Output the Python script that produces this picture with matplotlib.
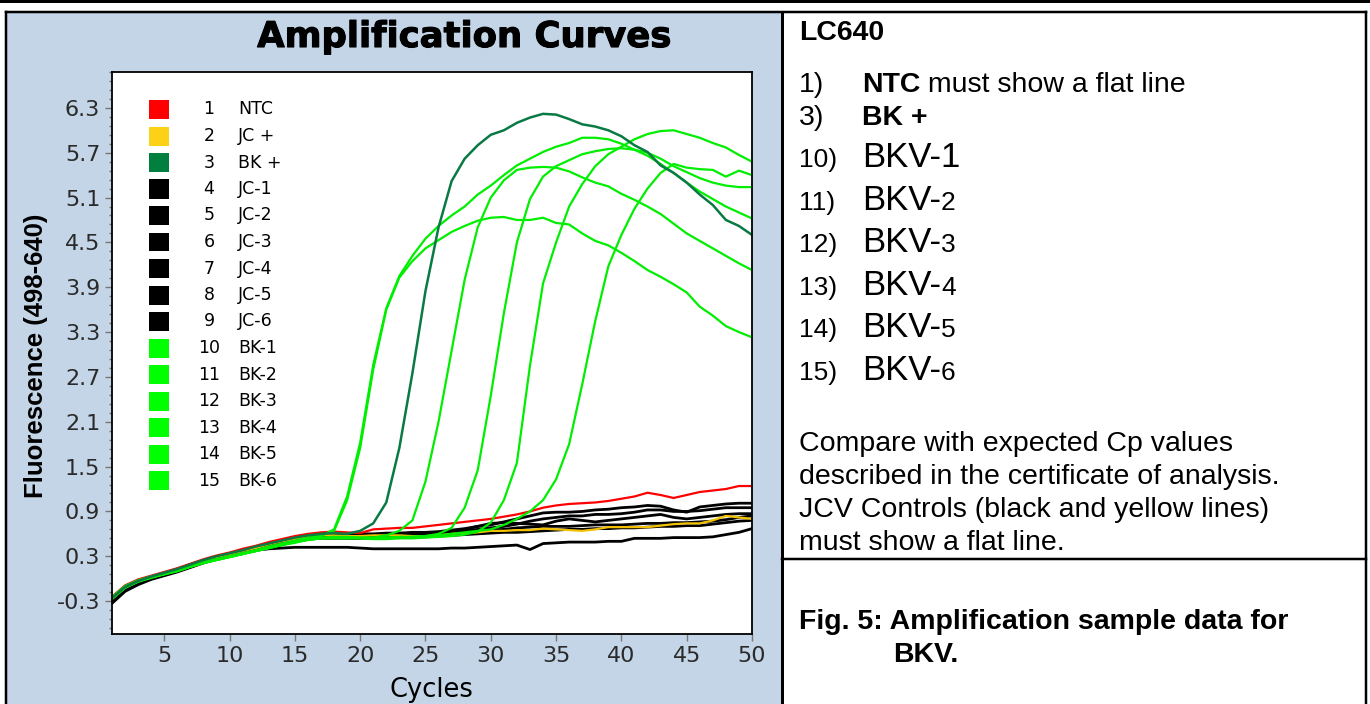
import matplotlib
matplotlib.use("Agg")
import matplotlib.pyplot as plt
import matplotlib.patheffects as pe
from matplotlib.patches import Rectangle
from matplotlib.lines import Line2D
from matplotlib.ticker import FixedLocator

# ---------------- data ----------------
cycles = list(range(1, 51))

ntc = [-0.24, -0.09, -0.01, 0.04, 0.09, 0.14, 0.20, 0.26, 0.31, 0.35,
       0.40, 0.44, 0.49, 0.53, 0.57, 0.60, 0.62, 0.63, 0.62, 0.61,
       0.66, 0.67, 0.68, 0.68, 0.70, 0.72, 0.74, 0.76, 0.78, 0.80,
       0.83, 0.86, 0.90, 0.95, 0.98, 1.00, 1.01, 1.02, 1.04, 1.07,
       1.10, 1.15, 1.12, 1.08, 1.12, 1.16, 1.18, 1.20, 1.24, 1.24]
jc_pos = [-0.27, -0.12, -0.03, 0.03, 0.08, 0.13, 0.19, 0.25, 0.29, 0.33,
          0.37, 0.41, 0.46, 0.50, 0.53, 0.56, 0.58, 0.58, 0.57, 0.57,
          0.58, 0.58, 0.58, 0.57, 0.57, 0.58, 0.60, 0.61, 0.62, 0.64,
          0.64, 0.65, 0.65, 0.67, 0.66, 0.65, 0.64, 0.66, 0.69, 0.69,
          0.69, 0.69, 0.71, 0.73, 0.74, 0.74, 0.78, 0.84, 0.82, 0.80]
bk_pos = [-0.26, -0.11, -0.03, 0.03, 0.08, 0.13, 0.19, 0.25, 0.30, 0.34,
          0.38, 0.43, 0.47, 0.51, 0.55, 0.58, 0.60, 0.61, 0.60, 0.64,
          0.74, 1.02, 1.75, 2.75, 3.85, 4.70, 5.32, 5.62, 5.80, 5.94,
          6.00, 6.10, 6.17, 6.22, 6.21, 6.15, 6.08, 6.05, 6.00, 5.92,
          5.80, 5.71, 5.53, 5.43, 5.30, 5.14, 5.00, 4.80, 4.72, 4.60]
jc_1 = [-0.28, -0.12, -0.04, 0.02, 0.07, 0.13, 0.19, 0.24, 0.29, 0.34,
        0.38, 0.42, 0.46, 0.50, 0.54, 0.57, 0.59, 0.59, 0.60, 0.60,
        0.60, 0.61, 0.61, 0.62, 0.62, 0.63, 0.65, 0.67, 0.70, 0.72,
        0.76, 0.80, 0.84, 0.88, 0.89, 0.89, 0.90, 0.92, 0.93, 0.95,
        0.96, 0.98, 0.97, 0.92, 0.89, 0.96, 0.98, 1.00, 1.01, 1.01]
jc_2 = [-0.30, -0.14, -0.05, 0.01, 0.06, 0.12, 0.18, 0.23, 0.28, 0.33,
        0.37, 0.41, 0.45, 0.49, 0.53, 0.56, 0.57, 0.57, 0.58, 0.58,
        0.58, 0.59, 0.59, 0.60, 0.60, 0.61, 0.62, 0.64, 0.66, 0.68,
        0.70, 0.73, 0.77, 0.80, 0.82, 0.84, 0.84, 0.86, 0.86, 0.87,
        0.89, 0.92, 0.92, 0.90, 0.90, 0.91, 0.93, 0.95, 0.95, 0.95]
jc_3 = [-0.29, -0.13, -0.05, 0.02, 0.07, 0.12, 0.17, 0.23, 0.28, 0.32,
        0.36, 0.40, 0.45, 0.49, 0.52, 0.55, 0.56, 0.56, 0.56, 0.56,
        0.56, 0.57, 0.57, 0.57, 0.58, 0.58, 0.60, 0.62, 0.63, 0.65,
        0.66, 0.68, 0.69, 0.70, 0.70, 0.70, 0.71, 0.72, 0.72, 0.72,
        0.73, 0.74, 0.74, 0.75, 0.75, 0.76, 0.77, 0.79, 0.82, 0.84]
jc_4 = [-0.31, -0.15, -0.06, 0.00, 0.05, 0.11, 0.17, 0.22, 0.27, 0.31,
        0.35, 0.39, 0.43, 0.47, 0.51, 0.53, 0.54, 0.54, 0.54, 0.54,
        0.55, 0.55, 0.55, 0.56, 0.56, 0.57, 0.58, 0.59, 0.60, 0.61,
        0.62, 0.62, 0.63, 0.64, 0.65, 0.66, 0.66, 0.67, 0.67, 0.68,
        0.68, 0.69, 0.70, 0.70, 0.71, 0.71, 0.73, 0.75, 0.77, 0.78]
jc_5 = [-0.33, -0.17, -0.08, -0.01, 0.04, 0.09, 0.15, 0.21, 0.26, 0.30,
        0.34, 0.38, 0.40, 0.41, 0.42, 0.42, 0.42, 0.42, 0.42, 0.41,
        0.40, 0.40, 0.40, 0.40, 0.40, 0.40, 0.41, 0.41, 0.42, 0.43,
        0.44, 0.45, 0.39, 0.47, 0.48, 0.49, 0.49, 0.49, 0.50, 0.50,
        0.54, 0.54, 0.54, 0.55, 0.55, 0.55, 0.56, 0.59, 0.62, 0.67]
jc_6 = [-0.28, -0.13, -0.04, 0.02, 0.07, 0.12, 0.18, 0.24, 0.28, 0.32,
        0.37, 0.41, 0.45, 0.49, 0.53, 0.56, 0.58, 0.58, 0.58, 0.59,
        0.59, 0.59, 0.60, 0.60, 0.61, 0.62, 0.63, 0.66, 0.70, 0.74,
        0.75, 0.74, 0.73, 0.72, 0.77, 0.80, 0.78, 0.76, 0.78, 0.80,
        0.82, 0.84, 0.86, 0.82, 0.80, 0.82, 0.84, 0.86, 0.87, 0.87]
bk_1 = [-0.25, -0.10, -0.03, 0.02, 0.07, 0.11, 0.17, 0.22, 0.26, 0.30,
        0.34, 0.38, 0.43, 0.47, 0.51, 0.55, 0.58, 0.64, 1.05, 1.75,
        2.80, 3.60, 4.03, 4.25, 4.42, 4.53, 4.64, 4.72, 4.79, 4.83,
        4.84, 4.80, 4.80, 4.83, 4.76, 4.74, 4.62, 4.52, 4.46, 4.36,
        4.25, 4.13, 4.04, 3.94, 3.83, 3.64, 3.52, 3.38, 3.30, 3.23]
bk_2 = [-0.27, -0.12, -0.04, 0.01, 0.06, 0.10, 0.16, 0.21, 0.25, 0.29,
        0.33, 0.37, 0.42, 0.46, 0.50, 0.54, 0.57, 0.66, 1.10, 1.82,
        2.86, 3.62, 4.05, 4.32, 4.55, 4.72, 4.86, 4.98, 5.14, 5.26,
        5.40, 5.53, 5.62, 5.71, 5.78, 5.83, 5.90, 5.90, 5.88, 5.82,
        5.74, 5.66, 5.55, 5.43, 5.30, 5.18, 5.08, 4.98, 4.90, 4.82]
bk_3 = [-0.26, -0.11, -0.03, 0.02, 0.06, 0.11, 0.16, 0.21, 0.25, 0.29,
        0.33, 0.38, 0.42, 0.46, 0.50, 0.53, 0.55, 0.56, 0.56, 0.55,
        0.55, 0.58, 0.64, 0.78, 1.30, 2.10, 3.05, 4.00, 4.70, 5.10,
        5.33, 5.47, 5.50, 5.51, 5.50, 5.45, 5.37, 5.30, 5.25, 5.15,
        5.07, 4.98, 4.88, 4.75, 4.62, 4.52, 4.42, 4.32, 4.22, 4.13]
bk_4 = [-0.25, -0.10, -0.02, 0.03, 0.07, 0.12, 0.17, 0.22, 0.26, 0.30,
        0.34, 0.37, 0.41, 0.45, 0.49, 0.52, 0.54, 0.55, 0.55, 0.54,
        0.54, 0.55, 0.55, 0.56, 0.57, 0.60, 0.68, 0.95, 1.45, 2.45,
        3.55, 4.50, 5.08, 5.38, 5.52, 5.60, 5.68, 5.72, 5.75, 5.76,
        5.74, 5.70, 5.62, 5.52, 5.44, 5.36, 5.30, 5.26, 5.24, 5.24]
bk_5 = [-0.26, -0.12, -0.03, 0.02, 0.06, 0.11, 0.16, 0.22, 0.26, 0.30,
        0.33, 0.37, 0.41, 0.45, 0.48, 0.52, 0.54, 0.54, 0.54, 0.54,
        0.53, 0.53, 0.54, 0.54, 0.55, 0.56, 0.57, 0.59, 0.63, 0.75,
        1.05, 1.55, 2.85, 3.95, 4.50, 4.98, 5.28, 5.52, 5.68, 5.78,
        5.88, 5.95, 5.99, 6.00, 5.95, 5.90, 5.83, 5.77, 5.67, 5.58]
bk_6 = [-0.27, -0.12, -0.04, 0.02, 0.06, 0.10, 0.16, 0.21, 0.25, 0.29,
        0.33, 0.37, 0.41, 0.45, 0.49, 0.52, 0.54, 0.54, 0.54, 0.55,
        0.55, 0.55, 0.56, 0.56, 0.57, 0.58, 0.60, 0.62, 0.64, 0.66,
        0.72, 0.80, 0.90, 1.05, 1.33, 1.80, 2.60, 3.45, 4.18, 4.60,
        4.95, 5.22, 5.43, 5.55, 5.50, 5.48, 5.47, 5.38, 5.46, 5.40]

sample_numbers = ["1", "2", "3", "4", "5", "6", "7", "8", "9",
                  "10", "11", "12", "13", "14", "15"]
sample_names = ["NTC", "JC +", "BK +", "JC-1", "JC-2", "JC-3", "JC-4", "JC-5",
                "JC-6", "BK-1", "BK-2", "BK-3", "BK-4", "BK-5", "BK-6"]
sample_series = [ntc, jc_pos, bk_pos, jc_1, jc_2, jc_3, jc_4, jc_5, jc_6,
                 bk_1, bk_2, bk_3, bk_4, bk_5, bk_6]

x_tick_values = [5, 10, 15, 20, 25, 30, 35, 40, 45, 50]
x_tick_labels = ["5", "10", "15", "20", "25", "30", "35", "40", "45", "50"]
y_tick_values = [-0.3, 0.3, 0.9, 1.5, 2.1, 2.7, 3.3, 3.9, 4.5, 5.1, 5.7, 6.3]
y_tick_labels = ["-0.3", "0.3", "0.9", "1.5", "2.1", "2.7", "3.3", "3.9",
                 "4.5", "5.1", "5.7", "6.3"]

# ---------------- styles ----------------
RED = "#ff0000"
YEL_LINE = "#f2c200"
YEL_BOX = "#fcd116"
DKG = "#0a7a44"
LTG_LINE = "#00ee00"
LTG_BOX = "#00ff00"
BLK = "#000000"
line_colors = [RED, YEL_LINE, DKG] + [BLK] * 6 + [LTG_LINE] * 6
box_colors = [RED, YEL_BOX, "#007f3f"] + [BLK] * 6 + [LTG_BOX] * 6
line_widths = [1.6, 1.6, 1.8] + [2.0] * 6 + [1.6] * 6
draw_order = [3, 4, 5, 6, 7, 8, 1, 0, 9, 10, 11, 12, 13, 14, 2]

BLUE = "#c3d5e6"
W, H = 1370, 704

fig = plt.figure(figsize=(13.7, 7.04), dpi=100)
fig.patch.set_facecolor("white")


def fx(x):
    return x / W


def fy(y):
    return 1 - y / H


# chart panel background
fig.add_artist(Rectangle((fx(6), 0), fx(782) - fx(6), fy(12),
                         transform=fig.transFigure, facecolor=BLUE,
                         edgecolor="none", zorder=-5))


def hline(x0, x1, y, lw=2.0):
    fig.add_artist(Line2D([fx(x0), fx(x1)], [fy(y), fy(y)], color="black",
                          lw=lw * 0.72, transform=fig.transFigure, zorder=10,
                          solid_capstyle="projecting"))


def vline(x, y0, y1, lw=2.0):
    fig.add_artist(Line2D([fx(x), fx(x)], [fy(y0), fy(y1)], color="black",
                          lw=lw * 0.72, transform=fig.transFigure, zorder=10,
                          solid_capstyle="projecting"))


hline(0, 1370, 1, lw=3)
hline(6, 1366, 12, lw=2.5)
vline(6, 12, 704, lw=2.5)
vline(782, 12, 704, lw=3)
vline(1366, 12, 704, lw=2.5)
hline(782, 1366, 559, lw=2.5)

# ---------------- axes ----------------
ax = fig.add_axes([fx(112), fy(634), fx(752) - fx(112), fy(72) - fy(634)])
ax.set_zorder(1)
ax.set_facecolor("white")
for i in draw_order:
    ax.plot(cycles, sample_series[i], color=line_colors[i],
            lw=line_widths[i], solid_joinstyle="round")
ax.set_xlim(1, 50)
ax.set_ylim(-0.74, 6.78)
ax.xaxis.set_major_locator(FixedLocator(x_tick_values))
ax.set_xticklabels(x_tick_labels)
ax.yaxis.set_major_locator(FixedLocator(y_tick_values))
ax.set_yticklabels(y_tick_labels)
minor_y = [round(-0.78 + 0.12 * k, 2) for k in range(64)]
ax.yaxis.set_minor_locator(FixedLocator([v for v in minor_y if -0.74 <= v <= 6.78]))
for sp in ax.spines.values():
    sp.set_color("black")
    sp.set_linewidth(1.3)
ax.tick_params(axis="both", which="major", direction="out", length=5,
               width=1, color="#777777", labelcolor="#2a2a2a",
               labelsize=16)
ax.tick_params(axis="y", which="major", pad=3.5)
ax.tick_params(axis="x", which="major", pad=4)
ax.tick_params(axis="y", which="minor", direction="out", length=2.5,
               width=1, color="#777777")
for lab in ax.get_xticklabels() + ax.get_yticklabels():
    lab.set_family("DejaVu Sans")

# legend inside the plot
for i in range(15):
    yc = 109.5 + i * 26.5
    fig.add_artist(Rectangle((fx(149), fy(yc + 9.5)), fx(169) - fx(149),
                             fy(yc - 9.5) - fy(yc + 9.5),
                             transform=fig.transFigure,
                             facecolor=box_colors[i], edgecolor="none",
                             zorder=20))
    fig.text(fx(209), fy(yc), sample_numbers[i], ha="center", va="center",
             fontsize=12.5, family="DejaVu Sans", color="black", zorder=21)
    fig.text(fx(238), fy(yc), sample_names[i], ha="left", va="center",
             fontsize=12.5, family="DejaVu Sans", color="black", zorder=21)

# titles
fig.text(fx(464), fy(47), "Amplification Curves", ha="center", va="baseline",
         fontsize=25.5, fontweight="bold", family="DejaVu Sans",
         path_effects=[pe.withStroke(linewidth=0.8, foreground="black")])
fig.text(fx(36), fy(356), "Fluorescence (498-640)", ha="center", va="center",
         rotation=90, fontsize=18.5, fontweight="bold",
         family="Liberation Sans")
fig.text(fx(431), fy(697), "Cycles", ha="center", va="baseline",
         fontsize=18.5, family="DejaVu Sans")

# ---------------- right panel text ----------------
FAM = "Liberation Sans"
renderer = fig.canvas.get_renderer()


def put(x, y, s, size, bold=False):
    return fig.text(fx(x), fy(y), s, ha="left", va="baseline",
                    fontsize=size, fontweight="bold" if bold else "normal",
                    family=FAM, color="black")


def after(t):
    bb = t.get_window_extent(renderer)
    return bb.x1


put(799, 39.5, "LC640", 20.5, True)
put(799, 92, "1)", 20.5)
t = put(862, 92, "NTC", 20.5, True)
put(after(t), 92, " must show a flat line", 20.5)
put(799, 125, "3)", 20.5)
put(862, 125, "BK +", 20.5, True)

bkv_rows = [("10)", "BKV-1", ""), ("11)", "BKV-", "2"), ("12)", "BKV-", "3"),
            ("13)", "BKV-", "4"), ("14)", "BKV-", "5"), ("15)", "BKV-", "6")]
for k, (num, big, small) in enumerate(bkv_rows):
    yb = 167 + k * 42.6
    put(799, yb, num, 19)
    t = put(862, yb, big, 25)
    if small:
        put(after(t), yb, small, 19)

notes = ["Compare with expected Cp values",
         "described in the certificate of analysis.",
         "JCV Controls (black and yellow lines)",
         "must show a flat line."]
for k, s in enumerate(notes):
    put(799, 451 + k * 33, s, 20.5)

put(799, 629, "Fig. 5: Amplification sample data for", 20.5, True)
put(893, 662, "BKV.", 20.5, True)

fig.savefig("out.png", dpi=100, facecolor="white")
